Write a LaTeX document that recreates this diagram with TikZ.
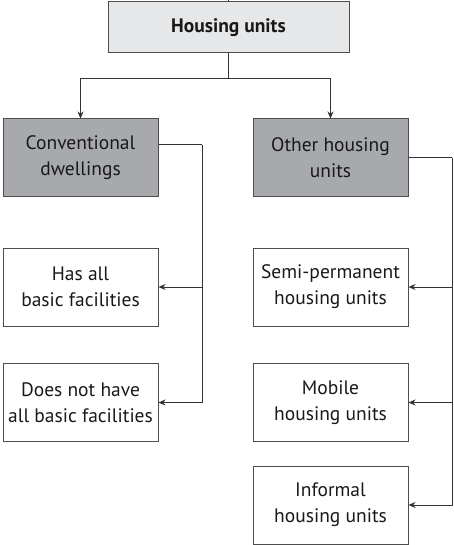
\documentclass[tikz,border=0pt]{standalone}
\usepackage{fontspec}
\setmainfont{PT Sans}
\usetikzlibrary{arrows.meta}
\definecolor{lightfill}{HTML}{E6E7E8}
\definecolor{darkfill}{HTML}{A7A9AC}
\definecolor{edgecol}{HTML}{4D4D4D}
\definecolor{linecol}{HTML}{333333}
\begin{document}
\begin{tikzpicture}[x=1pt,y=-1pt,
  box/.style={draw=edgecol,line width=1pt,minimum width=155pt,minimum height=78pt,
    align=center,inner sep=0pt,font=\fontsize{19.5}{26}\selectfont,text=black!90},
  topbox/.style={box,fill=lightfill,minimum width=241pt,minimum height=51pt,font=\fontsize{19.5}{26}\selectfont\bfseries},
  catbox/.style={box,fill=darkfill},
  conn/.style={draw=linecol,line width=1pt},
  arr/.style={conn,-{Stealth[length=7pt,width=6pt]}}]
\useasboundingbox (0,0) rectangle (453,545);
\node[topbox] (hu) at (228.5,27.5) {Housing units};
\node[catbox] (cd) at (80.5,158) {Conventional\\dwellings};
\node[catbox] (oh) at (330.5,158) {Other housing\\units};
\node[box] (ha) at (80.5,287) {Has all\\basic facilities};
\node[box] (dn) at (80.5,402.5) {Does not have\\all basic facilities};
\node[box] (sp) at (330.5,287) {Semi-permanent\\housing units};
\node[box] (mo) at (330.5,402.5) {Mobile\\housing units};
\node[box] (in) at (330.5,505) {Informal\\housing units};
\coordinate (top) at (228.5,0);
\coordinate (split) at (228.5,79);
\coordinate (cdrail) at (202,145);
\coordinate (ohrail) at (452,158);
\draw[conn] (top) -- (hu.north);
\draw[conn] (hu.south) -- (split);
\draw[arr] (split) -| (cd.north);
\draw[arr] (split) -| (oh.north);
\draw[conn] (cd.east |- cdrail) -- (cdrail);
\draw[arr] (cdrail) |- (ha.east);
\draw[arr] (cdrail) |- (dn.east);
\draw[conn] (oh.east) -- (ohrail);
\draw[arr] (ohrail) |- (sp.east);
\draw[arr] (ohrail) |- (mo.east);
\draw[arr] (ohrail) |- (in.east);
\end{tikzpicture}
\end{document}
